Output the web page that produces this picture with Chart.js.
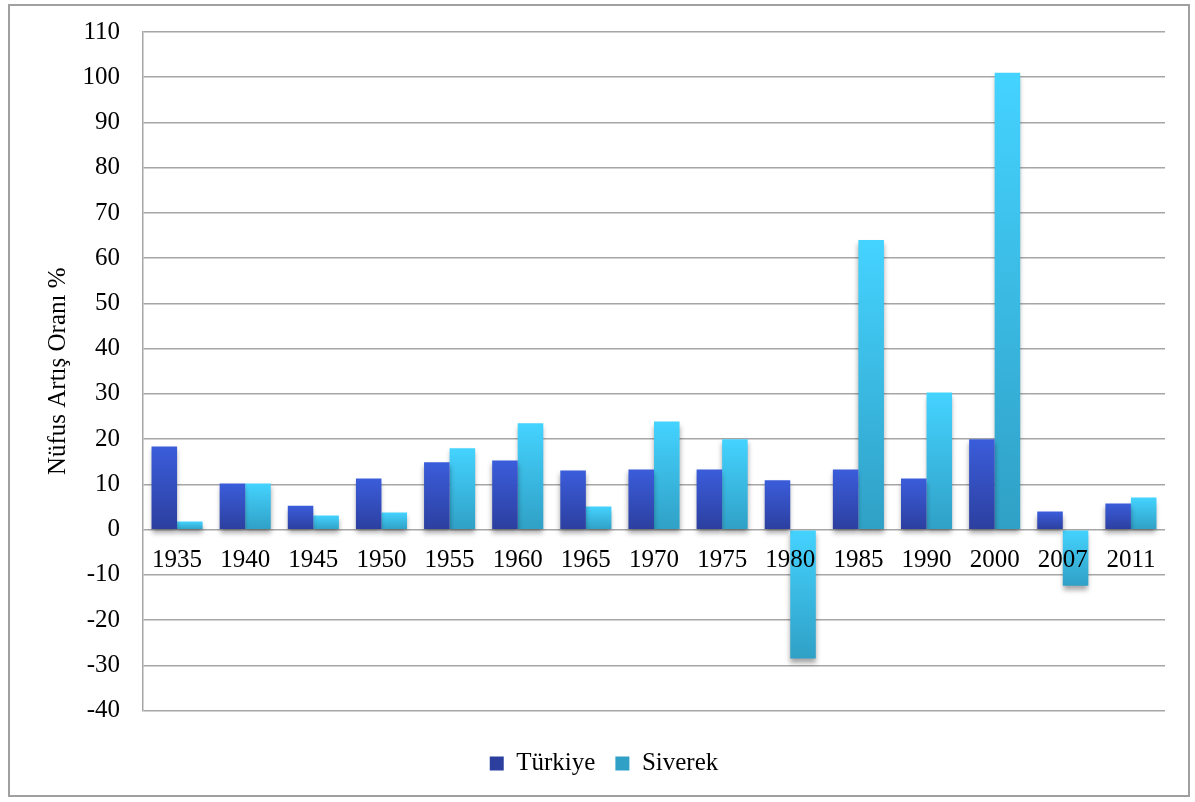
<!DOCTYPE html>
<html>
<head>
<meta charset="utf-8">
<script src="https://cdn.jsdelivr.net/npm/chart.js@4.4.1/dist/chart.umd.min.js"></script>
<style>
  body { margin: 0; background: #fff; }
  #wrap { position: absolute; left: 8px; top: 4px; width: 1178px; height: 789px; border: 2px solid #a0a0a0; }
</style>
</head>
<body>
<div id="wrap"><canvas id="graph"></canvas></div>
<script>
const years = ['1935', '1940', '1945', '1950', '1955', '1960', '1965', '1970', '1975', '1980', '1985', '1990', '2000', '2007', '2011'];
const turkiye = [18.4, 10.2, 5.3, 11.3, 14.9, 15.3, 13.1, 13.3, 13.3, 10.9, 13.3, 11.3, 20.0, 4.0, 5.8];
const siverek = [1.8, 10.2, 3.1, 3.8, 18.0, 23.5, 5.1, 23.9, 20.0, -28.5, 64.0, 30.3, 101.0, -12.4, 7.1];

const serif = "'Liberation Serif', 'Times New Roman', serif";
const gridGray = '#a6a6a6';

// each bar gets its own top-to-bottom gradient
function barFill(top, bottom) {
  return (c) => {
    const chart = c.chart;
    if (c.type !== 'data' || !chart.chartArea) return top;
    const y = chart.scales.y;
    const v = c.parsed.y;
    const y0 = y.getPixelForValue(Math.max(v, 0));
    const y1 = y.getPixelForValue(Math.min(v, 0));
    if (Math.abs(y1 - y0) < 1) return top;
    const g = chart.ctx.createLinearGradient(0, y0, 0, y1);
    g.addColorStop(0, top);
    g.addColorStop(1, bottom);
    return g;
  };
}

const barShadow = {
  id: 'barShadow',
  beforeDatasetsDraw(chart) {
    const ctx = chart.ctx;
    ctx.save();
    ctx.shadowColor = 'rgba(0,0,0,0.35)';
    ctx.shadowBlur = 5;
    ctx.shadowOffsetY = 4;
  },
  afterDatasetsDraw(chart) {
    chart.ctx.restore();
  }
};

const ctx = document.getElementById('graph').getContext('2d');

new Chart(ctx, {
  type: 'bar',
  data: {
    labels: years,
    datasets: [
      { label: 'Türkiye', data: turkiye, backgroundColor: barFill('#3b5ddb', '#2c3f9f') },
      { label: 'Siverek', data: siverek, backgroundColor: barFill('#44d3ff', '#30a0c6') }
    ]
  },
  plugins: [barShadow],
  options: {
    responsive: true,
    maintainAspectRatio: false,
    animation: false,
    layout: { padding: { top: 26, left: 33, right: 23, bottom: 9 } },
    datasets: { bar: { categoryPercentage: 0.75, barPercentage: 1 } },
    scales: {
      x: {
        position: { y: 0 },
        grid: { display: false, drawTicks: false },
        border: { display: false },
        ticks: { z: 1, color: '#000', padding: 16, maxRotation: 0, autoSkip: false, font: { family: serif, size: 25 } }
      },
      y: {
        min: -40,
        max: 110,
        afterFit: (scale) => {
          scale.width = 100;
          scale.paddingTop = 0;
          scale.paddingBottom = 0;
        },
        ticks: { stepSize: 10, color: '#000', padding: 23, font: { family: serif, size: 25 } },
        grid: { color: gridGray, lineWidth: 1.5, drawTicks: false },
        border: { color: gridGray, width: 1.5 },
        title: { display: true, text: 'Nüfus Artış Oranı %', color: '#000', padding: { top: 0, bottom: 0 }, font: { family: serif, size: 25 } }
      }
    },
    plugins: {
      tooltip: { enabled: false },
      legend: {
        position: 'bottom',
        title: { display: true, text: ' ', padding: 0, font: { size: 17 } },
        labels: { color: '#000', boxWidth: 14, boxHeight: 14, padding: 20, font: { family: serif, size: 25 } }
      }
    }
  }
});
</script>
</body>
</html>
